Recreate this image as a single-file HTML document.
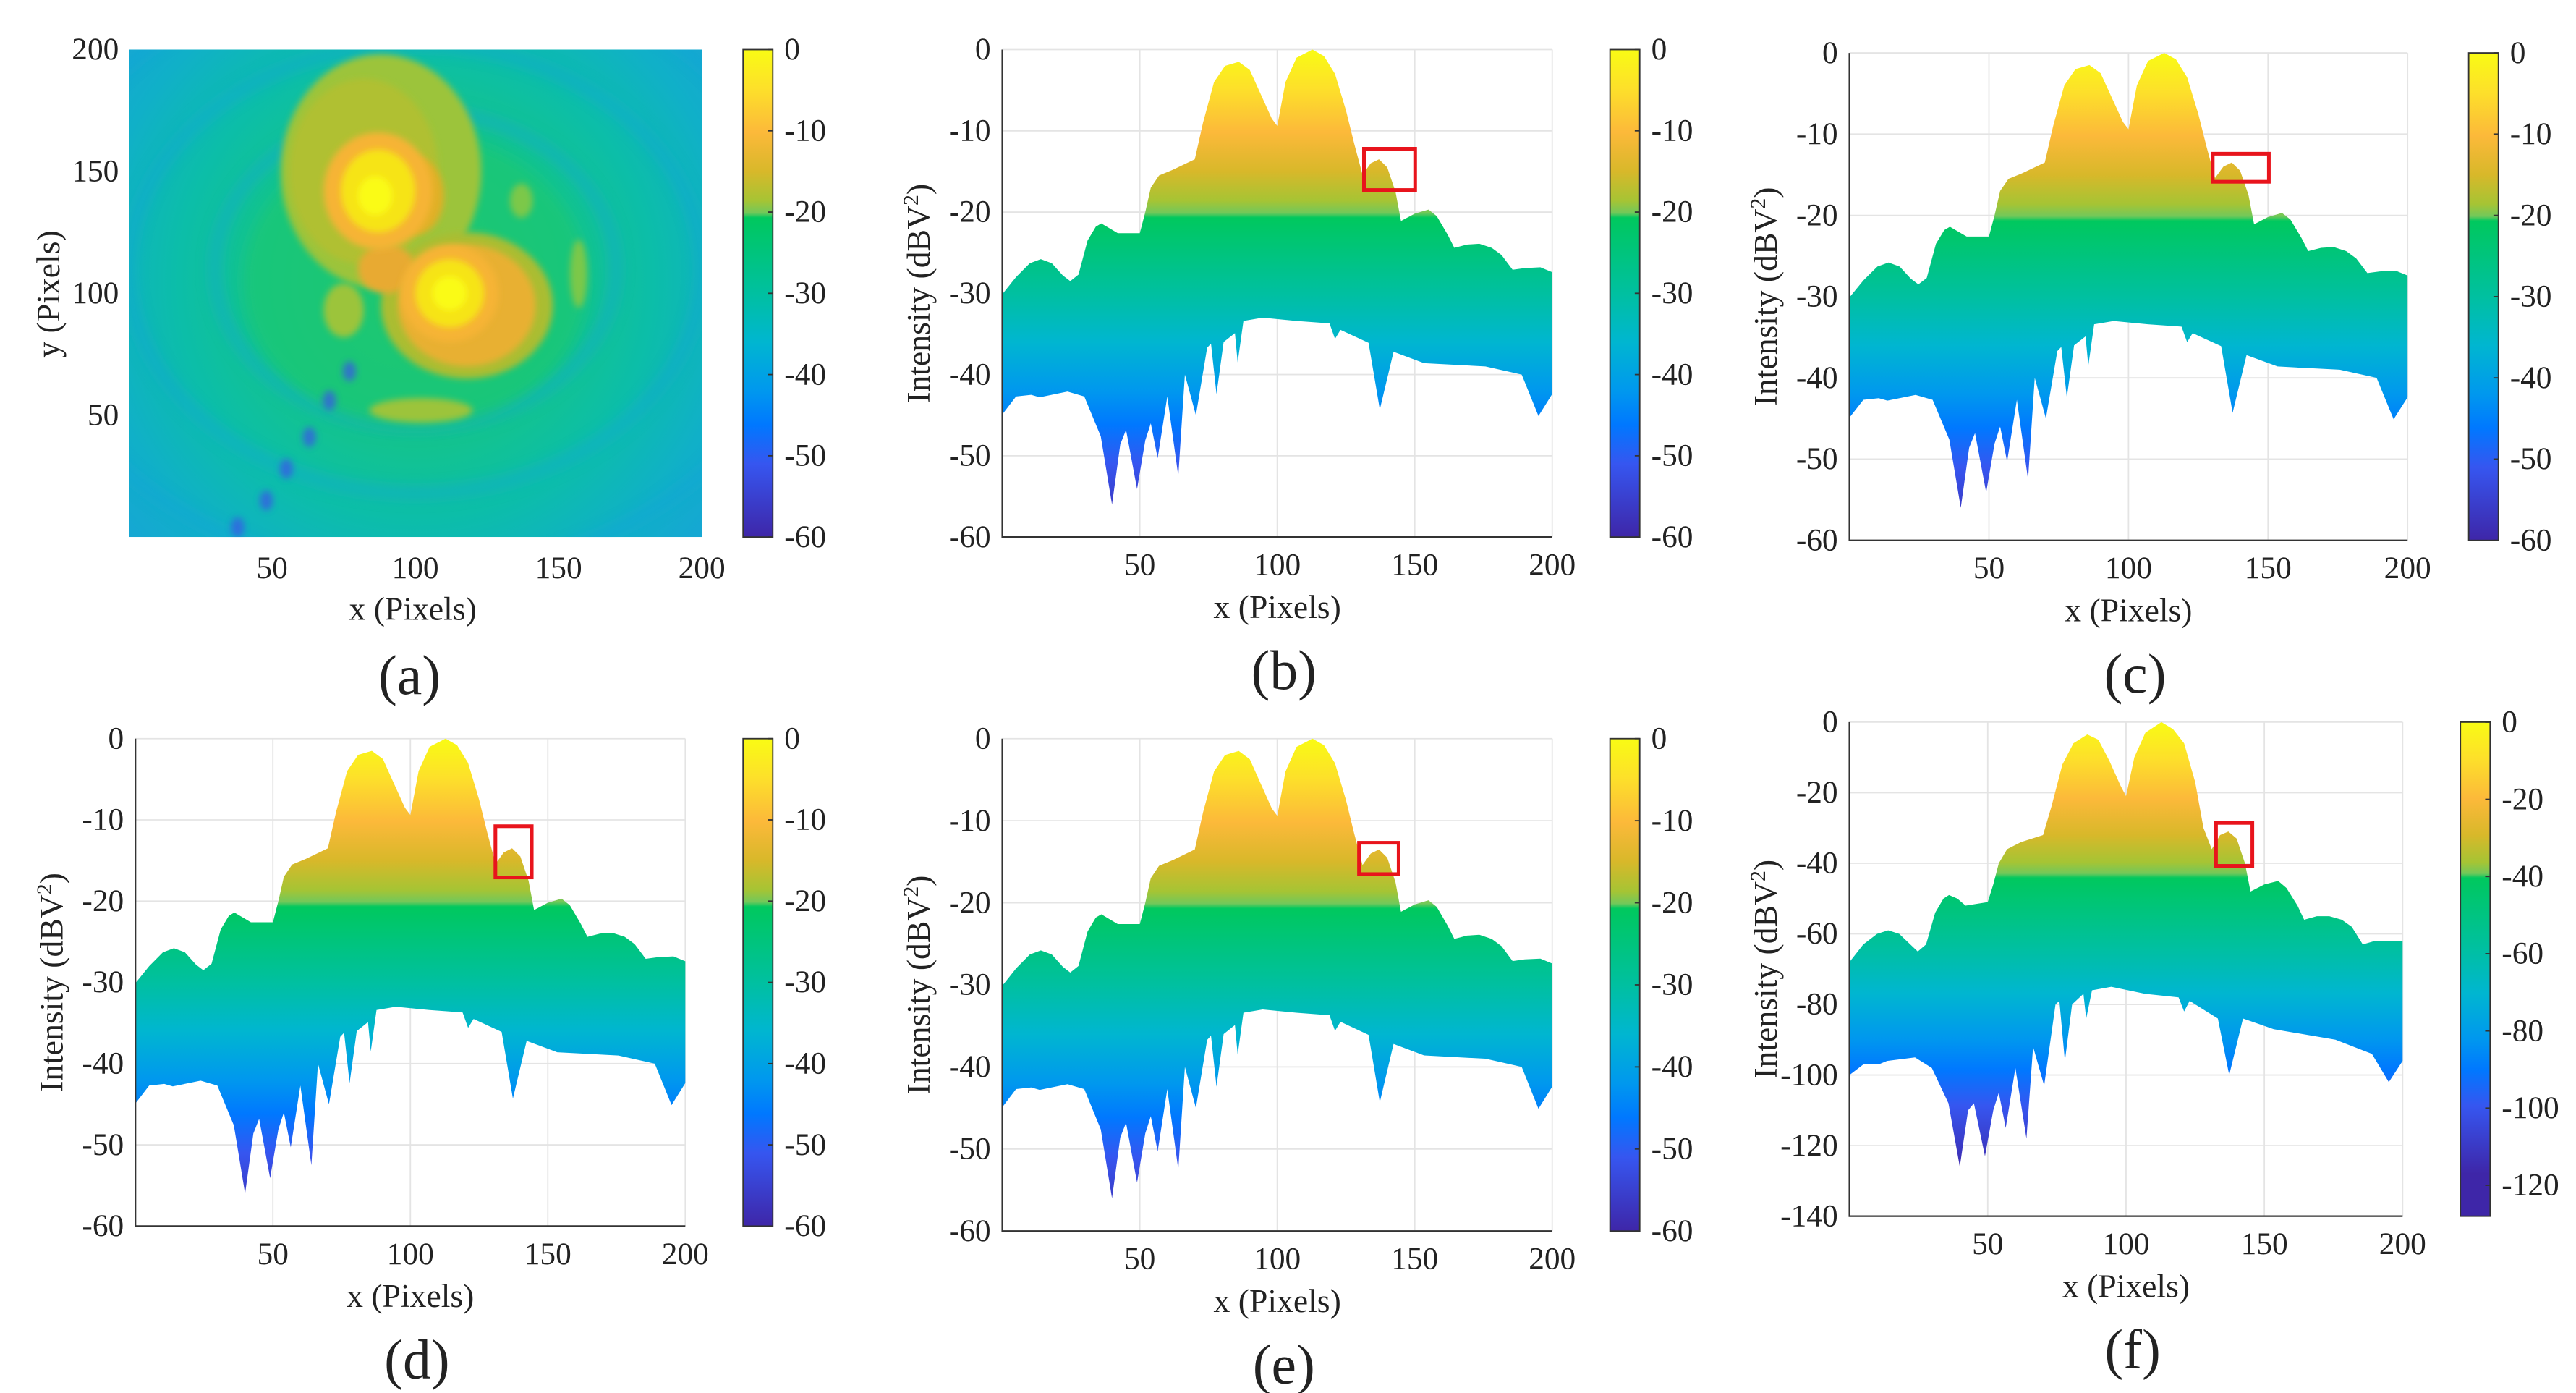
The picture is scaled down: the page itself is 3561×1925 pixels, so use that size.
<!DOCTYPE html>
<html><head><meta charset="utf-8">
<style>
html,body{margin:0;padding:0;background:#fff;}
svg{display:block;}
svg text{font-family:"Liberation Serif","DejaVu Serif",serif !important;fill:#222;}
</style></head>
<body>
<svg id="fig" xmlns="http://www.w3.org/2000/svg" width="3561" height="1925" viewBox="0 0 1560 843" preserveAspectRatio="none" font-family="Liberation Serif, serif">
<defs>
<filter id="blur4" x="-50%" y="-50%" width="200%" height="200%"><feGaussianBlur stdDeviation="4"/></filter>
<filter id="blur2" x="-50%" y="-50%" width="200%" height="200%"><feGaussianBlur stdDeviation="2"/></filter>
<clipPath id="clipA"><rect x="78" y="30" width="347" height="295"/></clipPath>
</defs>
</svg>
<script>
// ---------- data ----------
const xTicks = [50, 100, 150, 200];
const xTickLabels = ["50", "100", "150", "200"];
const upperX = [0, 5, 10, 14, 18, 22, 24.7, 27.7, 31, 34, 36, 39, 42, 50, 52, 54, 57, 62, 70, 73, 77, 81, 86, 90, 94, 98, 100, 103, 107, 112.8, 117, 121, 125, 128, 131, 134, 137, 140, 143, 145, 150, 155, 158, 162, 164.4, 169, 173.5, 178, 181.6, 185.6, 190, 195.7, 200];
const upperB = [-30.1, -28, -26.3, -25.8, -26.3, -27.8, -28.5, -27.7, -23.5, -21.8, -21.4, -22, -22.6, -22.6, -20, -17, -15.5, -14.8, -13.5, -9, -4, -2, -1.5, -2.5, -5.5, -8.5, -9.4, -4, -1, 0, -0.8, -3, -7.5, -11.6, -15.4, -14, -13.5, -14.5, -17.5, -21.1, -20.2, -19.7, -20.5, -22.8, -24.4, -24, -23.9, -24.4, -25.3, -27.1, -26.9, -26.8, -27.4];
const upperF = [-68, -63, -60, -59, -60, -63, -65, -63, -54, -50, -49, -50, -52, -51, -46, -40, -36, -34, -32, -24, -12, -6, -3.5, -5, -11, -18, -21, -10, -3, 0, -2, -6, -17, -30, -36, -32, -31, -33, -40, -48, -46, -45, -47, -52, -56, -55, -55, -56, -58, -63, -62, -62, -62];
const lowX = [0, 5, 10.5, 13.6, 23.7, 29.8, 35.8, 39.9, 42.9, 45, 49, 52, 54, 56.5, 60, 64, 66.4, 70.4, 74.5, 75.9, 77.9, 80.5, 84.6, 85.6, 87.7, 94.7, 106.9, 119, 121, 123, 133.2, 137.3, 142.3, 153.4, 175.7, 188.9, 195, 200];
const lowerB = [-44.9, -42.7, -42.5, -42.8, -42.1, -42.7, -47.6, -56, -48.6, -46.8, -54.1, -48.1, -46, -50.3, -42.7, -52.5, -40, -45, -36.7, -36.2, -42.4, -36, -34.9, -38.5, -33.4, -33, -33.4, -33.7, -35.6, -34.5, -36.1, -44.3, -37.2, -38.6, -39, -40, -45.1, -42.4];
const lowerF = [-100, -97, -97, -96, -95, -98, -108, -126, -110, -108, -123, -110, -105, -115, -98, -118, -92, -103, -80, -79, -96, -80, -77, -84, -76, -75, -77, -78, -82, -79, -84, -100, -84, -87, -90, -94, -102, -96];
const yTicks60 = [0, -10, -20, -30, -40, -50, -60];
const yTicks140 = [0, -20, -40, -60, -80, -100, -120, -140];
const cbTicks60 = [0, -10, -20, -30, -40, -50, -60];
const cbTicks128 = [0, -20, -40, -60, -80, -100, -120];
const yTicksA = [50, 100, 150, 200];

const NS = "http://www.w3.org/2000/svg";
const svg = document.getElementById("fig");
const defs = svg.querySelector("defs");
function mk(tag, attrs, parent) {
  const e = document.createElementNS(NS, tag);
  for (const k in attrs) e.setAttribute(k, attrs[k]);
  (parent || svg).appendChild(e);
  return e;
}
const parula = [[0,"#f9fb14"],[0.08,"#fde02a"],[0.17,"#fcb93a"],[0.25,"#d8b82a"],[0.31,"#a6c434"],[0.335,"#72c85a"],[0.345,"#00c85e"],[0.5,"#00c0a0"],[0.6,"#00b6d0"],[0.7,"#0098ee"],[0.77,"#0078ff"],[0.85,"#3656f0"],[1,"#3e26a8"]];
function gradient(id, y1, y2) {
  const g = mk("linearGradient", {id: id, gradientUnits: "userSpaceOnUse", x1: 0, x2: 0, y1: y1, y2: y2}, defs);
  parula.forEach(s => mk("stop", {offset: s[0], "stop-color": s[1]}, g));
}
function txt(g, attrs, s, name) {
  const t = mk("text", Object.assign({"font-family": "Liberation Serif, serif"}, attrs), g);
  t.textContent = s;
  
  
  return t;
}

function drawProfile(name, P, ymin, cbMin, yTickVals, cbTickVals, up, lo, box, letter) {
  const g = mk("g", {});
  
  
  const xs = v => P.l + (v / 200) * (P.r - P.l);
  const ys = v => P.t + (v / ymin) * (P.b - P.t);
  const gid = "grad-" + name;
  gradient(gid, ys(0), ys(cbMin));
  xTicks.forEach(t => {
    const l = mk("line", {x1: xs(t), x2: xs(t), y1: P.t, y2: P.b, stroke: "#e4e4e4", "stroke-width": 0.8}, g);
    
    
  });
  yTickVals.forEach(t => {
    const l = mk("line", {x1: P.l, x2: P.r, y1: ys(t), y2: ys(t), stroke: "#e4e4e4", "stroke-width": 0.8}, g);
    
    
  });
  let d = "";
  upperX.forEach((x, i) => { d += (i ? "L" : "M") + xs(x).toFixed(2) + "," + ys(up[i]).toFixed(2); });
  for (let i = lowX.length - 1; i >= 0; i--) d += "L" + xs(lowX[i]).toFixed(2) + "," + ys(lo[i]).toFixed(2);
  d += "Z";
  const area = mk("path", {d: d, fill: "url(#" + gid + ")", "stroke-linejoin": "round"}, g);
  
  
  const ax = mk("path", {d: `M${P.l},${P.t}V${P.b}H${P.r}`, fill: "none", stroke: "#333", "stroke-width": 1}, g);
  
  
  xTicks.forEach((t, i) => txt(g, {x: xs(t), y: P.b + 23, "font-size": 19, "text-anchor": "middle"}, xTickLabels[i], 'x-tick-label'));
  yTickVals.forEach(t => txt(g, {x: P.l - 7, y: ys(t) + 6, "font-size": 19, "text-anchor": "end"}, String(t), 'y-tick-label'));
  txt(g, {x: (P.l + P.r) / 2, y: P.b + 49, "font-size": 20, "text-anchor": "middle"}, "x (Pixels)", 'x-axis-title');
  const cy = (P.t + P.b) / 2, cx = P.l - 44;
  const yl = mk("text", {x: cx, y: cy, "font-size": 20, "text-anchor": "middle", "font-family": "Liberation Serif, serif", transform: `rotate(-90 ${cx} ${cy})`}, g);
  yl.innerHTML = 'Intensity (dBV<tspan dy="-7" font-size="13">2</tspan><tspan dy="7">)</tspan>';
  
  
  const rb = mk("rect", {x: box[0], y: box[1], width: box[2], height: box[3], fill: "none", stroke: "#e8141c", "stroke-width": 2.2}, g);
  
  
  drawColorbar(P, cbMin, cbTickVals, gid, g);
  txt(g, {x: (P.l + P.r) / 2 + 4, y: P.b + 92, "font-size": 34, "text-anchor": "middle"}, "(" + letter + ")", 'panel-label');
}

function drawColorbar(P, cbMin, ticks, gid, g) {
  const cbx = P.cb, w = 18;
  const cys = v => P.t + (v / cbMin) * (P.b - P.t);
  const r = mk("rect", {x: cbx, y: P.t, width: w, height: P.b - P.t, fill: "url(#" + gid + ")", stroke: "#333", "stroke-width": 0.8}, g);
  
  
  ticks.forEach(t => {
    const tk = mk("line", {x1: cbx + w - 3, x2: cbx + w, y1: cys(t), y2: cys(t), stroke: "#333", "stroke-width": 0.8}, g);
    
    
    txt(g, {x: cbx + w + 7, y: cys(t) + 6, "font-size": 19}, String(t), 'colorbar-tick-label');
  });
}

// ---------- panel (a) heatmap ----------
(function () {
  const P = {l: 78, r: 425, t: 30, b: 325, cb: 450};
  const g = mk("g", {});
  
  
  const xs = v => P.l + (v / 200) * (P.r - P.l);
  const ys = v => P.b - (v / 200) * (P.b - P.t);
  const sx = (P.r - P.l) / 200, sy = (P.b - P.t) / 200;
  gradient("grad-a", P.t, P.b);
  const rg = mk("radialGradient", {id: "bgA", gradientUnits: "userSpaceOnUse", cx: xs(100), cy: ys(105), r: 260}, defs);
  [[0,"#22c870"],[0.35,"#14c48a"],[0.55,"#0cbea8"],[0.75,"#10b0c8"],[1,"#1aa0dc"]].forEach(s => mk("stop", {offset: s[0], "stop-color": s[1]}, rg));
  const hm = mk("g", {"clip-path": "url(#clipA)"}, g);
  
  
  mk("rect", {x: P.l, y: P.t, width: P.r - P.l, height: P.b - P.t, fill: "url(#bgA)"}, hm);
  const arcs = [[100, 110, 100, 92], [100, 110, 135, 125], [100, 110, 70, 65]];
  arcs.forEach(a => mk("ellipse", {cx: xs(a[0]), cy: ys(a[1]), rx: a[2] * sx, ry: a[3] * sy, fill: "none", stroke: "#18a6d8", "stroke-width": 7, opacity: 0.5, filter: "url(#blur4)"}, hm));
  mk("ellipse", {cx: xs(100), cy: ys(105), rx: 60 * sx, ry: 60 * sy, fill: "#1ec870", opacity: 0.6, filter: "url(#blur4)"}, hm);
  const blobs = [
    [88, 150, 35, 48, "#9cc43a"], [82, 150, 26, 38, "#b0c030"], [118, 95, 30, 30, "#aabd30"],
    [102, 52, 18, 5, "#9cc43a"], [75, 93, 7, 11, "#9cc43a"], [137, 138, 4, 7, "#7cc84a"],
    [157, 108, 3, 14, "#7cc84a"], [100, 140, 10, 16, "#e0b028"], [90, 110, 10, 10, "#e8aa30"],
    [118, 95, 24, 25, "#e8b030"], [87, 142, 19, 24, "#f6b436"], [112, 100, 17, 20, "#f6b436"],
    [87, 142, 13, 17, "#f6e418"], [112, 100, 12, 14, "#f6e418"], [86, 140, 6, 8, "#fafb14"], [112, 100, 6, 7, "#fafb14"]
  ];
  blobs.forEach(b => mk("ellipse", {cx: xs(b[0]), cy: ys(b[1]), rx: b[2] * sx, ry: b[3] * sy, fill: b[4], filter: "url(#blur2)"}, hm));
  const dots = [[38, 4], [48, 15], [55, 28], [63, 41], [70, 56], [77, 68]];
  dots.forEach(dd => mk("ellipse", {cx: xs(dd[0]), cy: ys(dd[1]), rx: 4, ry: 6, fill: "#3a55e8", opacity: 0.7, filter: "url(#blur2)"}, hm));
  xTicks.forEach((t, i) => txt(g, {x: xs(t), y: P.b + 25, "font-size": 19, "text-anchor": "middle"}, xTickLabels[i], 'x-tick-label'));
  yTicksA.forEach(t => txt(g, {x: P.l - 6, y: ys(t) + 6, "font-size": 19, "text-anchor": "end"}, String(t), 'y-tick-label'));
  txt(g, {x: 250, y: 375, "font-size": 20, "text-anchor": "middle"}, "x (Pixels)", 'x-axis-title');
  txt(g, {x: 36, y: 178, "font-size": 20, "text-anchor": "middle", transform: "rotate(-90 36 178)"}, "y (Pixels)", 'y-axis-title');
  drawColorbar(P, -60, cbTicks60, "grad-a", g);
  txt(g, {x: 248, y: 420, "font-size": 34, "text-anchor": "middle"}, "(a)", 'panel-label');
})();

drawProfile("b", {l: 607, r: 940, t: 30, b: 325, cb: 975}, -60, -60, yTicks60, cbTicks60, upperB, lowerB, [826, 90, 31, 25], "b");
drawProfile("c", {l: 1120, r: 1458, t: 32, b: 327, cb: 1495}, -60, -60, yTicks60, cbTicks60, upperB, lowerB, [1340, 93, 34, 17], "c");
drawProfile("d", {l: 82, r: 415, t: 447, b: 742, cb: 450}, -60, -60, yTicks60, cbTicks60, upperB, lowerB, [300, 500, 22, 31], "d");
drawProfile("e", {l: 607, r: 940, t: 447, b: 745, cb: 975}, -60, -60, yTicks60, cbTicks60, upperB, lowerB, [823, 510, 24, 19], "e");
drawProfile("f", {l: 1120, r: 1455, t: 437, b: 736, cb: 1490}, -140, -128, yTicks140, cbTicks128, upperF, lowerF, [1342, 498, 22, 26], "f");
</script>
</body></html>
